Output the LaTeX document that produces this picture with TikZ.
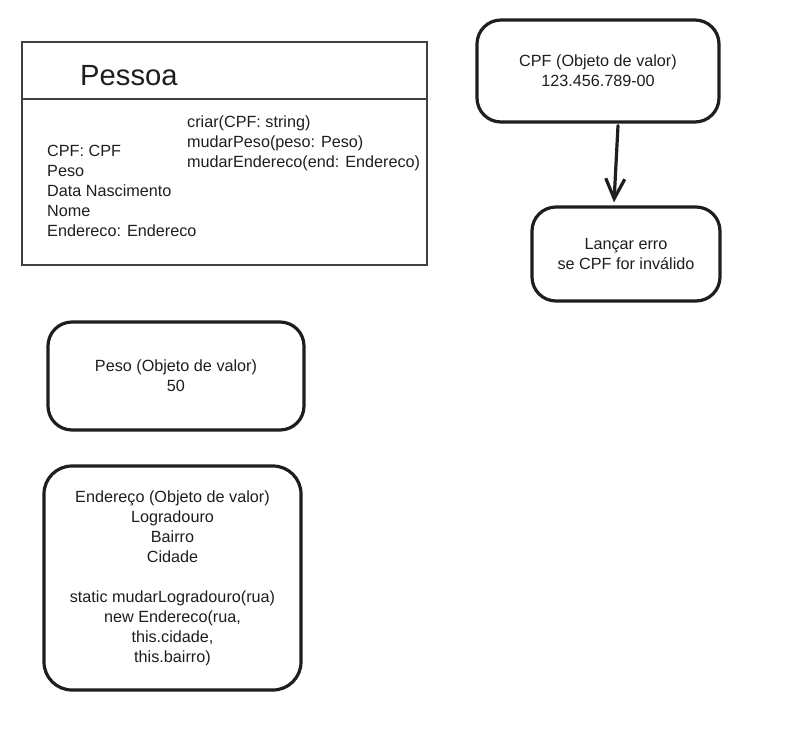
\documentclass[tikz,border=0pt]{standalone}
\usepackage{fontspec}
\setmainfont{Liberation Sans}
\usetikzlibrary{arrows.meta,calc}
\definecolor{ink}{HTML}{1E1E1E}
\tikzset{
  rbox/.style={draw=ink, line width=3.2pt, rounded corners=24pt, align=center,
    font=\fontsize{16.2}{20}\selectfont, text=ink, inner sep=0pt},
  txt/.style={font=\fontsize{16.2}{20}\selectfont, text=ink, inner sep=0pt, align=left},
  thin/.style={draw=ink!85, line width=1.1pt},
  link/.style={draw=ink, line width=3.2pt, line cap=round,
    -{Straight Barb[length=20pt,width=19pt,line width=3.2pt]}}
}
\begin{document}
\begin{tikzpicture}[x=1pt,y=-1pt]
\useasboundingbox (0,0) rectangle (812,733);
% Pessoa class box
\node[thin, rectangle, minimum width=405pt, minimum height=223pt, inner sep=0pt] (pessoa) at (224.5,153.5) {};
\coordinate (divL) at (22,99);
\coordinate (divR) at (428,99);
\draw[thin] (divL) -- (divR);
\node[txt, font=\fontsize{29.2}{34}\selectfont, anchor=west] (title) at (80,76) {Pessoa};
\node[txt, anchor=north west] (attrs) at (47,145) {CPF: CPF\\Peso\\Data Nascimento\\Nome\\Endereco: Endereco};
\node[txt, anchor=north west] (meths) at (187,116) {criar(CPF: string)\\mudarPeso(peso: Peso)\\mudarEndereco(end: Endereco)};
% CPF value object
\node[rbox, minimum width=242pt, minimum height=102pt] (cpf) at (598,71) {CPF (Objeto de valor)\\123.456.789-00};
\node[rbox, minimum width=188pt, minimum height=94pt] (lancar) at (626,254) {Lançar erro\\se CPF for inválido};
\coordinate (a1) at ($(cpf.south)+(20,2)$);
\coordinate (a2) at ($(lancar.north)+(-12,-3)$);
\draw[link] (a1) -- (a2);
% Peso
\node[rbox, minimum width=256pt, minimum height=108pt] (peso) at (176,376) {Peso (Objeto de valor)\\50};
% Endereco
\node[rbox, rounded corners=28pt, minimum width=257pt, minimum height=224pt] (end) at (172.5,578) {Endereço (Objeto de valor)\\Logradouro\\Bairro\\Cidade\\[20pt]static mudarLogradouro(rua)\\new Endereco(rua,\\this.cidade,\\this.bairro)};
\end{tikzpicture}
\end{document}
